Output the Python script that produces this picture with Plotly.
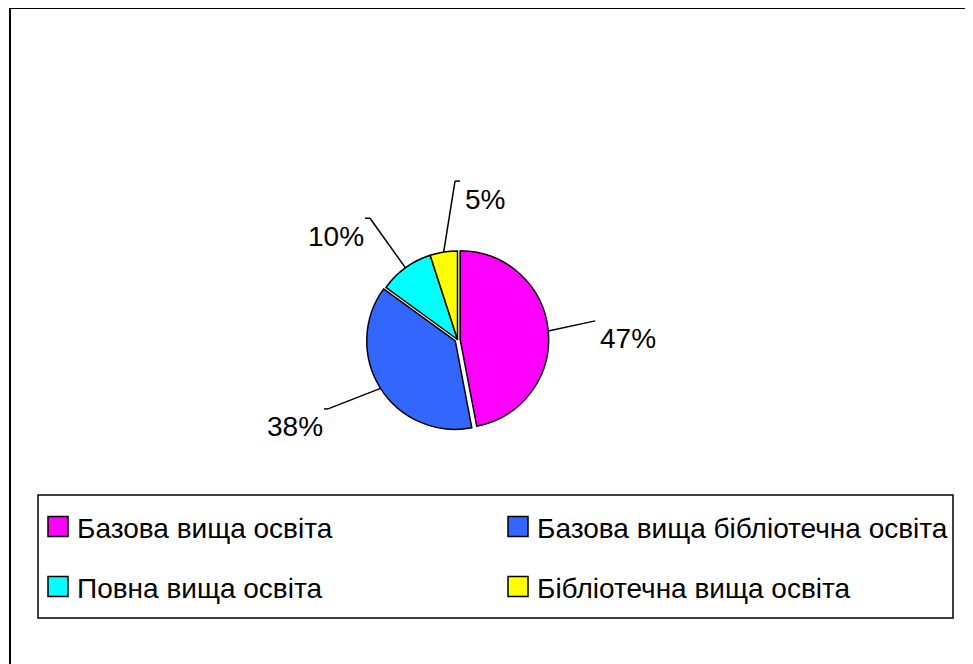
import math
import plotly.graph_objects as go

# ---- data ----
categories = [
    "Базова вища освіта",
    "Базова вища бібліотечна освіта",
    "Повна вища освіта",
    "Бібліотечна вища освіта",
]
values = [47, 38, 10, 5]

# ---- styles / layout ----
colors = ["#FF00FF", "#3366FF", "#00FFFF", "#FFFF00"]
pulls = [0.03, 0.03, 0.0, 0.0]
W, H = 973, 664
OFF = 8                                   # page body margin compensation
CX, CY, R = 457.5, 339.5, 88.5           # pie centre / radius in px
FONT = "Arial, Liberation Sans, sans-serif"
LABEL_SIZE = 28
# leader line tweaks (angle offset deg, length in radii, hook px, label dx/dy px)
leader_dang = [-2.3, 4.2, 0.2, 8.1]
leader_len = [1.57, 1.66, 1.69, 1.79]
leader_hook = [0, -4, -5, 5]
label_dx = [32.5, -33, -34, 29.5]
label_dy = [17.5, 17.5, 18, 18.5]


def px(x):
    return (x - OFF) / W


def py(y):
    return 1 - (y - OFF) / H


half = R * (1 + max(pulls))
fig = go.Figure(
    go.Pie(
        labels=categories,
        values=values,
        sort=False,
        direction="clockwise",
        rotation=0,
        pull=pulls,
        textinfo="none",
        hoverinfo="label+percent",
        marker=dict(colors=colors, line=dict(color="black", width=1.5)),
        domain=dict(x=[px(CX - half), px(CX + half)], y=[py(CY + half), py(CY - half)]),
        showlegend=False,
    )
)

shapes = []
annotations = []

total = sum(values)
cum = 0.0
for i, v in enumerate(values):
    mid = (cum + v / 2) / total * 360.0
    cum += v
    a = math.radians(mid)
    r0 = R * (1 + pulls[i])
    sx, sy = CX + r0 * math.sin(a), CY - r0 * math.cos(a)
    b = math.radians(mid + leader_dang[i])
    ex, ey = CX + R * leader_len[i] * math.sin(b), CY - R * leader_len[i] * math.cos(b)
    shapes.append(dict(type="line", xref="paper", yref="paper",
                       x0=px(sx), y0=py(sy), x1=px(ex), y1=py(ey),
                       line=dict(color="black", width=1.5)))
    if leader_hook[i]:
        shapes.append(dict(type="line", xref="paper", yref="paper",
                           x0=px(ex), y0=py(ey), x1=px(ex + leader_hook[i]), y1=py(ey),
                           line=dict(color="black", width=1.5)))
    pct = f"{round(v / total * 100)}%"
    annotations.append(dict(xref="paper", yref="paper",
                            x=px(ex + label_dx[i]), y=py(ey + label_dy[i]),
                            xanchor="center", yanchor="middle", showarrow=False,
                            text=pct, font=dict(family=FONT, size=LABEL_SIZE, color="black")))

# outer chart border
shapes.append(dict(type="rect", xref="paper", yref="paper",
                   x0=px(10), y0=py(720), x1=px(1010), y1=py(8),
                   line=dict(color="black", width=2), fillcolor="rgba(0,0,0,0)"))

# legend box
shapes.append(dict(type="rect", xref="paper", yref="paper",
                   x0=px(38), y0=py(618), x1=px(953), y1=py(495),
                   line=dict(color="black", width=1.5), fillcolor="rgba(0,0,0,0)"))

col_x = [48, 508]
row_y = [526.5, 586.5]
SQ = 20
for i, cat in enumerate(categories):
    c, r = i % 2, i // 2
    x0, yc = col_x[c], row_y[r]
    shapes.append(dict(type="rect", xref="paper", yref="paper",
                       x0=px(x0), y0=py(yc + SQ / 2), x1=px(x0 + SQ), y1=py(yc - SQ / 2),
                       line=dict(color="black", width=1.5), fillcolor=colors[i]))
    annotations.append(dict(xref="paper", yref="paper",
                            x=px(x0 + SQ + 7), y=py(yc + 1.5),
                            xanchor="left", yanchor="middle", showarrow=False,
                            text=cat, font=dict(family=FONT, size=LABEL_SIZE, color="black")))

fig.update_layout(
    width=W, height=H, autosize=False,
    margin=dict(l=0, r=0, t=0, b=0),
    paper_bgcolor="white", plot_bgcolor="white",
    shapes=shapes, annotations=annotations,
    showlegend=False,
)

fig.write_html("out.html")
